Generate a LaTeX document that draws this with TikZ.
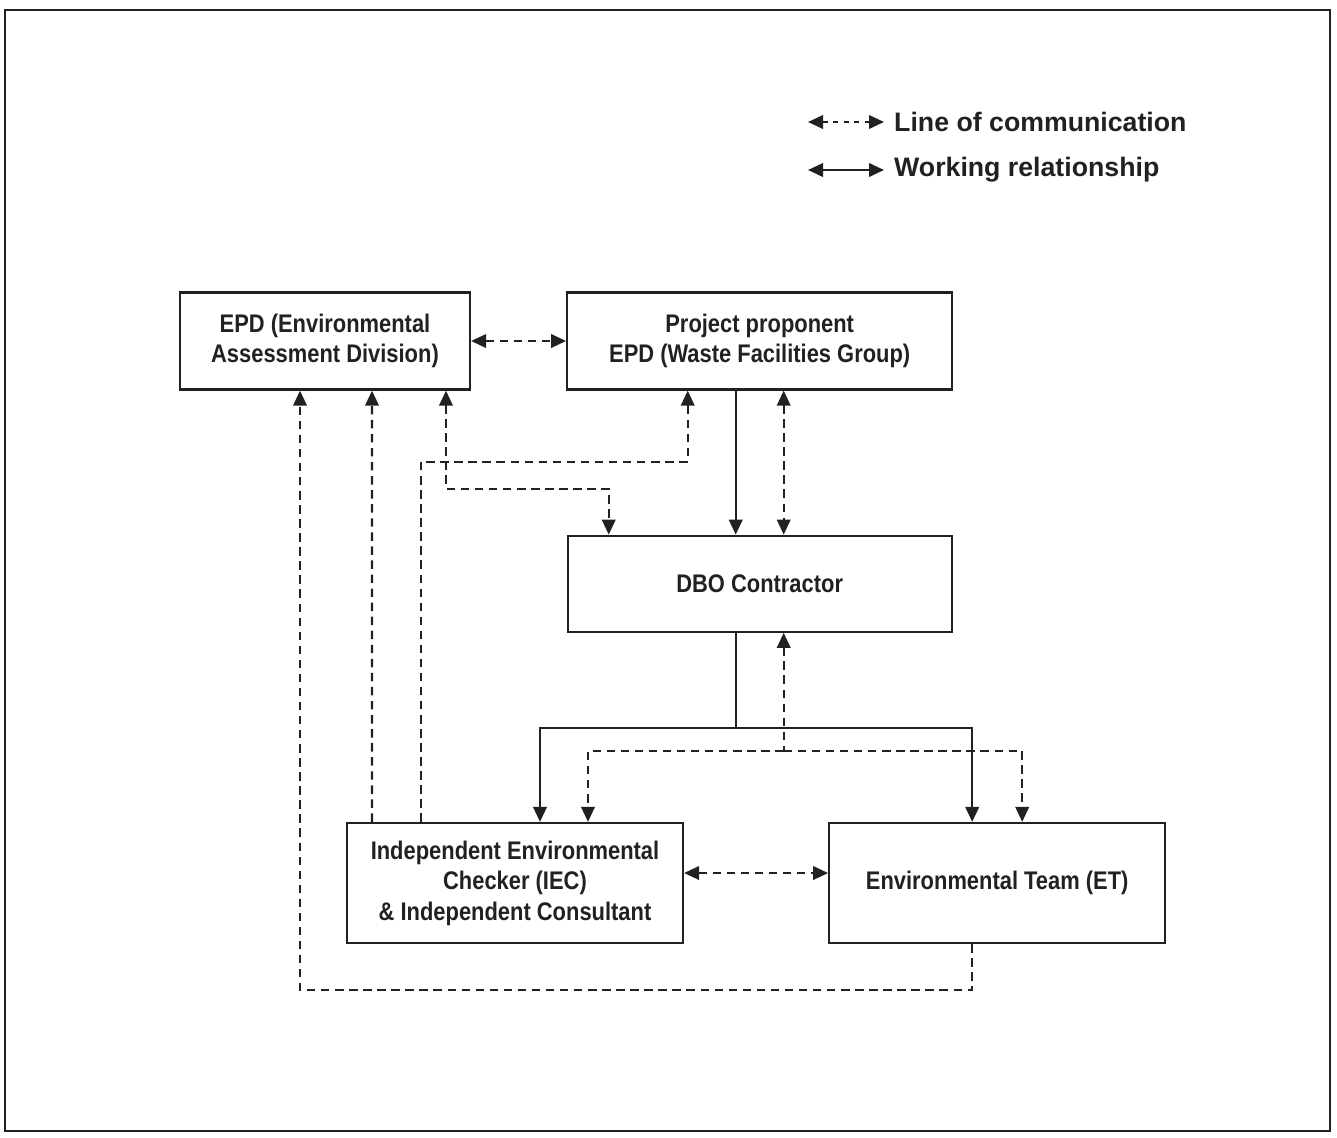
\documentclass[tikz,border=0pt]{standalone}
\usepackage{fontspec}
\setmainfont{Liberation Sans}
\newfontfamily\narrowsans{Liberation Sans}[FakeStretch=0.86]
\usetikzlibrary{arrows.meta,positioning}
\definecolor{ink}{gray}{0.13}

\begin{document}
\begin{tikzpicture}[x=0.02cm, y=-0.02cm, node distance=1.9cm,
  >={Triangle[length=0.3cm,width=0.27cm]}]
	\tikzstyle{box}=[draw=ink, line width=1.3pt, rectangle, align=center, text=ink, inner sep=0pt, font={\narrowsans\bfseries\fontsize{14.5}{17.3}\selectfont}]
	\tikzstyle{comm}=[draw=ink, line width=1.2pt, dash pattern=on 4.8pt off 3.2pt]
	\tikzstyle{work}=[draw=ink, line width=1.3pt]
	\tikzstyle{legend}=[anchor=west, text=ink, font={\bfseries\fontsize{15.2}{18}\selectfont}]

	\useasboundingbox (0,0) rectangle (1337,1137);
	\draw[ink, line width=1.4pt] (5,10) rectangle (1330,1131);

	% legend
	\node[legend] (lcomm) at (888,122) {Line of communication};
	\node[legend] (lwork) at (888,170) {Working relationship};
	\coordinate (lcommtail) at (808,122);
	\coordinate (lworktail) at (808,170);
	\draw[comm, dash pattern=on 3pt off 3pt, <->] (lcommtail) -- ([xshift=-0.08cm]lcomm.west);
	\draw[work, <->] (lworktail) -- ([xshift=-0.08cm]lwork.west);

	% boxes
	\node[box, minimum width=5.8cm, minimum height=1.94cm] (ead) at (325,341) {EPD (Environmental\\Assessment Division)};
	\node[box, minimum width=7.7cm, minimum height=1.94cm] (pp) [right=of ead] {Project proponent\\EPD (Waste Facilities Group)};
	\node[box, minimum width=7.68cm, minimum height=1.92cm] (dbo) [below=2.88cm of pp] {DBO Contractor};
	\node[box, minimum width=6.72cm, minimum height=2.4cm] (iec) at (515,883) {Independent Environmental\\Checker (IEC)\\\& Independent Consultant};
	\node[box, minimum width=6.72cm, minimum height=2.4cm] (et) [right=2.88cm of iec] {Environmental Team (ET)};

	% top links
	\draw[comm,<->] (ead) -- (pp);
	\draw[work,->] ([xshift=-0.48cm]pp.south) -- ([xshift=-0.48cm]dbo.north);
	\draw[comm,<->] ([xshift=0.48cm]pp.south) -- ([xshift=0.48cm]dbo.north);
	\draw[comm,<->] ([xshift=2.42cm]ead.south) -- ++(0,-1.96cm) -| ([xshift=-3.02cm]dbo.north);

	% reporting up from IEC and ET
	\draw[comm,->] ([xshift=-1.88cm]iec.north) |- ([xshift=-1.44cm,yshift=-1.42cm]pp.south) -- ([xshift=-1.44cm]pp.south);
	\draw[comm,->] ([xshift=-2.86cm]iec.north) -- ([xshift=0.94cm]ead.south);
	\draw[comm,->] ([xshift=-0.5cm]et.south) -- ++(0,-0.92cm) -| ([xshift=-0.5cm]ead.south);

	% DBO down to IEC and ET
	\draw[work] ([xshift=-0.48cm]dbo.south) -- ++(0,-1.9cm) coordinate (wfork);
	\draw[work,->] (wfork) -| ([xshift=0.5cm]iec.north);
	\draw[work,->] (wfork) -| ([xshift=-0.5cm]et.north);
	\draw[comm,<-] ([xshift=0.48cm]dbo.south) -- ++(0,-2.36cm) coordinate (cfork);
	\draw[comm,->] (cfork) -| ([xshift=1.46cm]iec.north);
	\draw[comm,->] (cfork) -| ([xshift=0.5cm]et.north);

	\draw[comm,<->] ([yshift=0.2cm]iec.east) -- ([yshift=0.2cm]et.west);
\end{tikzpicture}
\end{document}
